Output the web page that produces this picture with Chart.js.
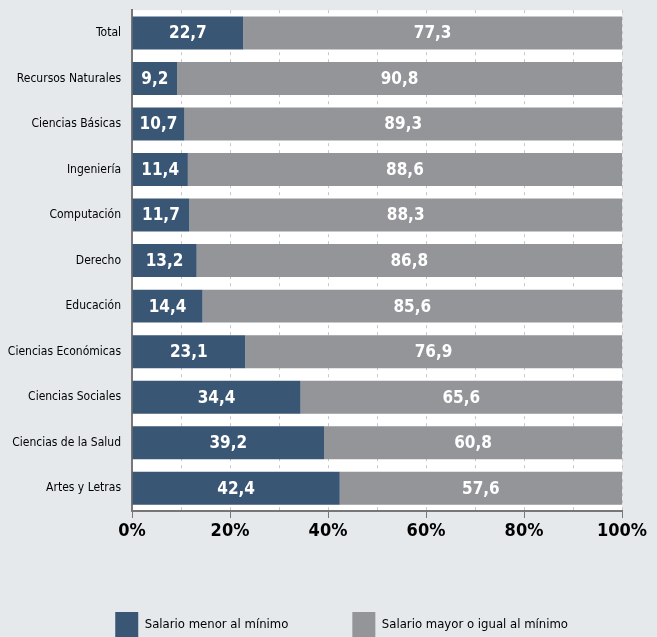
<!DOCTYPE html>
<html><head><meta charset="utf-8">
<script src="https://cdn.jsdelivr.net/npm/chart.js@4/dist/chart.umd.min.js"></script>
<style>
html,body{margin:0;padding:0;background:#e6e9ec;}
#wrap{width:657px;height:637px;}
</style></head>
<body><div id="wrap"><canvas id="c" width="657" height="637"></canvas></div>
<script>
const categories = ["Total","Recursos Naturales","Ciencias Básicas","Ingeniería","Computación","Derecho","Educación","Ciencias Económicas","Ciencias Sociales","Ciencias de la Salud","Artes y Letras"];
const menorAlMinimo = [22.7,9.2,10.7,11.4,11.7,13.2,14.4,23.1,34.4,39.2,42.4];
const mayorOIgual = [77.3,90.8,89.3,88.6,88.3,86.8,85.6,76.9,65.6,60.8,57.6];
const seriesNames = ["Salario menor al mínimo","Salario mayor o igual al mínimo"];
const xTicks = [0,20,40,60,80,100];

const FONT = "'DejaVu Sans Condensed','Liberation Sans Narrow',sans-serif";

const plotBg = {
  id:'plotBg',
  afterLayout(chart){
    if (chart.legend){ chart.legend.left += 10; chart.legend.right += 10; }
  },
  beforeDraw(chart){
    const {ctx, chartArea:a} = chart;
    ctx.save(); ctx.fillStyle='#ffffff';
    ctx.fillRect(a.left, a.top, a.right-a.left, a.bottom-a.top);
    ctx.restore();
  }
};
const labels = {
  id:'labels',
  afterDatasetsDraw(chart){
    const ctx = chart.ctx;
    ctx.save();
    ctx.fillStyle='#ffffff';
    ctx.font = "bold 17px " + FONT;
    ctx.textAlign='center'; ctx.textBaseline='middle';
    chart.data.datasets.forEach((ds,di)=>{
      chart.getDatasetMeta(di).data.forEach((bar,i)=>{
        const v = ds.data[i];
        const x = (bar.x + bar.base)/2;
        ctx.fillText(v.toFixed(1).replace('.',','), x, bar.y+1);
      });
    });
    ctx.restore();
  }
};

new Chart(document.getElementById('c'), {
  type:'bar',
  data:{
    labels: categories,
    datasets:[
      {label:seriesNames[0], data:menorAlMinimo, backgroundColor:'#3a5675', barPercentage:0.805, categoryPercentage:0.9},
      {label:seriesNames[1], data:mayorOIgual, backgroundColor:'#939598', barPercentage:0.805, categoryPercentage:0.9}
    ]
  },
  options:{
    indexAxis:'y',
    responsive:false,
    animation:false,
    layout:{padding:{top:9,right:35,left:0,bottom:-10}},
    scales:{
      x:{
        stacked:true, min:0, max:100,
        afterFit(s){ s.height = 37; },
        ticks:{stepSize:10, autoSkip:false, maxRotation:0, color:'#000', padding:3,
          font:{family:FONT, size:18, weight:'bold'},
          callback:(v)=> xTicks.includes(v) ? v+'%' : ''},
        grid:{color:'#c4c7cb', lineWidth:1, drawTicks:true, tickLength:7,
          tickColor:(c)=> (c.tick && xTicks.includes(c.tick.value)) ? '#777' : 'rgba(0,0,0,0)'},
        border:{display:true, color:'#777', width:2, dash:[3,4]}
      },
      y:{
        stacked:true,
        afterFit(s){ s.width = 132; },
        ticks:{color:'#000', padding:3, font:{family:FONT, size:12}},
        grid:{display:false},
        border:{display:true, color:'#777', width:2}
      }
    },
    plugins:{
      legend:{position:'bottom', align:'end',
        labels:{boxWidth:23, boxHeight:25, padding:64, color:'#000', font:{family:FONT, size:13}}},
      tooltip:{enabled:false}
    }
  },
  plugins:[plotBg, labels]
});
</script></body></html>
